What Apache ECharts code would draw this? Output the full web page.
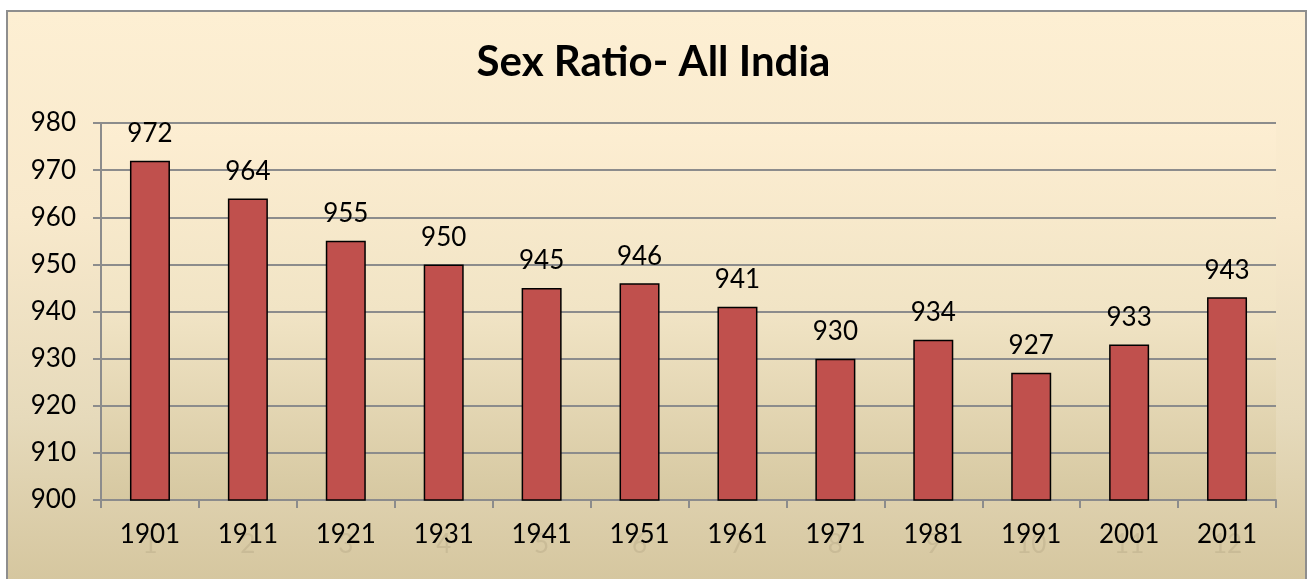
<!DOCTYPE html>
<html>
<head>
<meta charset="utf-8">
<script src="https://cdn.jsdelivr.net/npm/echarts@6/dist/echarts.min.js"></script>
<style>
  html, body { margin: 0; padding: 0; background: #ffffff; }
  .frame {
    position: absolute; left: 6px; top: 10px; width: 1297px; height: 580px;
    border: 2px solid #8e8e8e;
    background: linear-gradient(to bottom, #fdefd3 0%, #f8e9cc 35%, #e6dabb 70%, #d4c59d 100%);
  }
  #chart { position: absolute; left: 0; top: 0; width: 1307px; height: 579px; }
</style>
</head>
<body>
<div class="frame"></div>
<div id="chart"></div>
<script>
// 数据
var years = ['1901', '1911', '1921', '1931', '1941', '1951', '1961', '1971', '1981', '1991', '2001', '2011'];
var indexLabels = ['1', '2', '3', '4', '5', '6', '7', '8', '9', '10', '11', '12'];
var sexRatio = [972, 964, 955, 950, 945, 946, 941, 930, 934, 927, 933, 943];

var font = 'Lato, "Liberation Sans", sans-serif';

var myChart = echarts.init(document.getElementById('chart'));

var option = {
  backgroundColor: 'transparent',
  animation: false,
  title: {
    text: 'Sex Ratio- All India',
    left: 'center',
    top: 36,
    textStyle: { fontFamily: font, fontSize: 42, fontWeight: 'bold', color: '#000' }
  },
  grid: {
    left: 101,
    right: 31,
    top: 123,
    bottom: 79,
    show: true,
    borderWidth: 0,
    backgroundColor: new echarts.graphic.LinearGradient(0, 0, 0, 1, [
      { offset: 0, color: '#fdeed2' },
      { offset: 0.5, color: '#f1e4c5' },
      { offset: 1, color: '#d6c8a1' }
    ])
  },
  xAxis: [
    {
      // 淡色的序号标签
      type: 'category',
      data: indexLabels,
      position: 'bottom',
      z: 0,
      axisLine: { show: false },
      axisTick: { show: false },
      axisLabel: {
        margin: 32,
        fontFamily: font,
        fontSize: 26,
        color: 'rgba(150,138,105,0.22)'
      }
    },
    {
      type: 'category',
      data: years,
      position: 'bottom',
      z: 2,
      axisLine: { show: true, lineStyle: { color: '#8c8c8c', width: 2 } },
      axisTick: { show: true, length: 8, lineStyle: { color: '#8c8c8c', width: 2 } },
      axisLabel: {
        margin: 22,
        fontFamily: font,
        fontSize: 26,
        color: '#000'
      }
    }
  ],
  yAxis: {
    type: 'value',
    min: 900,
    max: 980,
    interval: 10,
    axisLine: { show: true, lineStyle: { color: '#8c8c8c', width: 2 } },
    axisTick: { show: true, length: 8, lineStyle: { color: '#8c8c8c', width: 2 } },
    axisLabel: { margin: 25, fontFamily: font, fontSize: 26, color: '#000' },
    splitLine: { show: true, lineStyle: { color: '#8c8c8c', width: 2 } }
  },
  series: [
    {
      type: 'bar',
      xAxisIndex: 1,
      data: sexRatio,
      barWidth: 40,
      itemStyle: { color: '#c0504d', borderColor: '#000', borderWidth: 1.5 },
      label: {
        show: true,
        position: 'top',
        distance: 14,
        fontFamily: font,
        fontSize: 26,
        color: '#000'
      }
    }
  ]
};

myChart.setOption(option);
window.addEventListener('resize', function () {
  myChart.resize();
});
</script>
</body>
</html>
